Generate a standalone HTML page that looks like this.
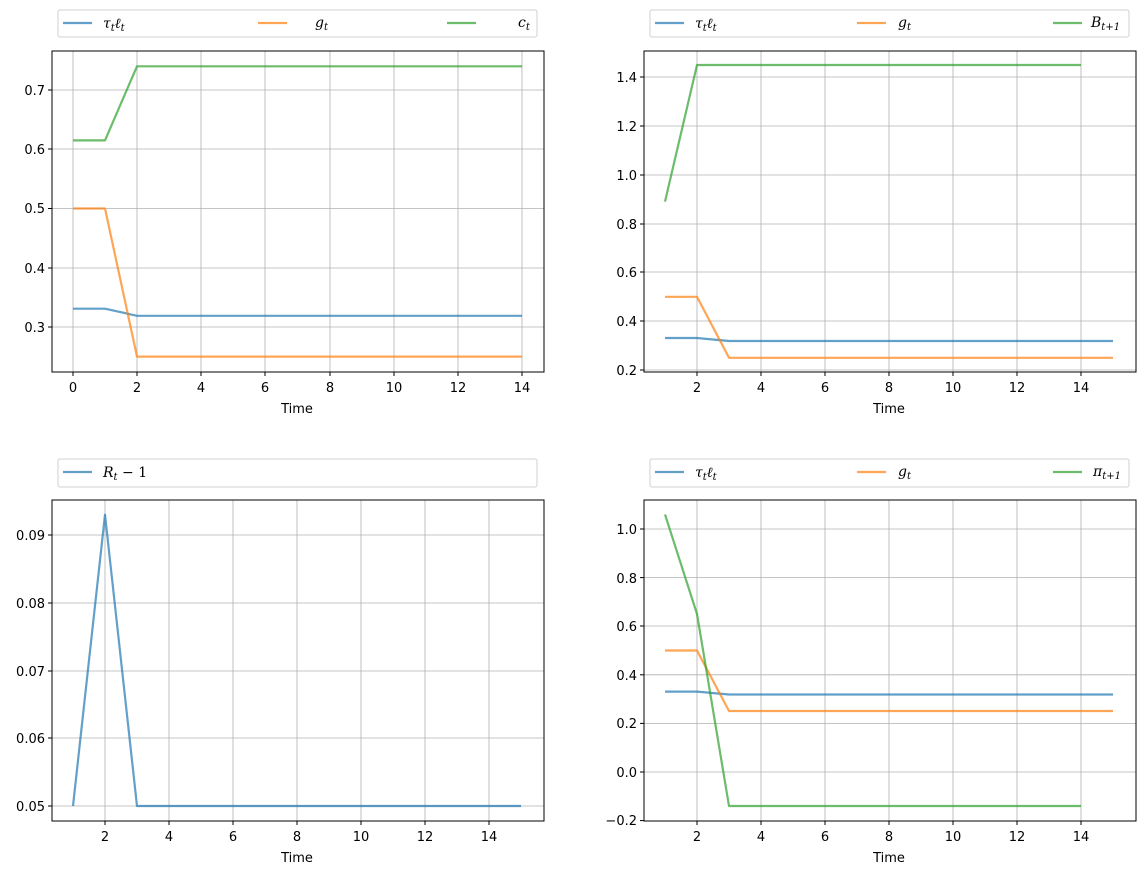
<!DOCTYPE html>
<html><head><meta charset="utf-8"><style>
body{margin:0;background:#fff}
svg{display:block;font-family:"DejaVu Sans","Liberation Sans",sans-serif;font-size:13px}
.g{stroke:#b0b0b0;stroke-width:0.8}
.ax{fill:none;stroke:#000;stroke-width:1}
.l{fill:none;stroke-width:2.2;stroke-opacity:0.7;stroke-linejoin:round}
.b{stroke:#1f77b4}.o{stroke:#ff7f0e}.gr{stroke:#2ca02c}
.lg{fill:#fff;stroke:#d0d0d0;stroke-width:1}
text{fill:#000}
.it{font-family:"DejaVu Serif","Liberation Serif",serif;font-style:italic;font-size:14px}
</style></head><body>
<svg width="1145" height="874" viewBox="0 0 1145 874">
<!-- TOP LEFT -->
<g>
<g class="g">
<line x1="73" y1="51" x2="73" y2="372"/><line x1="137" y1="51" x2="137" y2="372"/><line x1="201" y1="51" x2="201" y2="372"/><line x1="265" y1="51" x2="265" y2="372"/><line x1="330" y1="51" x2="330" y2="372"/><line x1="394" y1="51" x2="394" y2="372"/><line x1="458" y1="51" x2="458" y2="372"/><line x1="522" y1="51" x2="522" y2="372"/>
<line x1="52" y1="327" x2="544" y2="327"/><line x1="52" y1="268" x2="544" y2="268"/><line x1="52" y1="208.5" x2="544" y2="208.5"/><line x1="52" y1="149" x2="544" y2="149"/><line x1="52" y1="90" x2="544" y2="90"/>
</g>
<polyline class="l b" points="73,308.7 105,308.7 137,315.8 522,315.8"/>
<polyline class="l o" points="73,208.5 105,208.5 137,356.6 522,356.6"/>
<polyline class="l gr" points="73,140.4 105,140.4 137,66.3 522,66.3"/>
<rect class="ax" x="52" y="51" width="492" height="321"/>
<g stroke="#000"><line x1="73" y1="372" x2="73" y2="376"/><line x1="137" y1="372" x2="137" y2="376"/><line x1="201" y1="372" x2="201" y2="376"/><line x1="265" y1="372" x2="265" y2="376"/><line x1="330" y1="372" x2="330" y2="376"/><line x1="394" y1="372" x2="394" y2="376"/><line x1="458" y1="372" x2="458" y2="376"/><line x1="522" y1="372" x2="522" y2="376"/>
<line x1="48" y1="327" x2="52" y2="327"/><line x1="48" y1="268" x2="52" y2="268"/><line x1="48" y1="208.5" x2="52" y2="208.5"/><line x1="48" y1="149" x2="52" y2="149"/><line x1="48" y1="90" x2="52" y2="90"/></g>
<g text-anchor="middle"><text x="73" y="392">0</text><text x="137" y="392">2</text><text x="201" y="392">4</text><text x="265" y="392">6</text><text x="330" y="392">8</text><text x="394" y="392">10</text><text x="458" y="392">12</text><text x="522" y="392">14</text><text x="297" y="413">Time</text></g>
<g text-anchor="end"><text x="45" y="332">0.3</text><text x="45" y="273">0.4</text><text x="45" y="213">0.5</text><text x="45" y="154">0.6</text><text x="45" y="95">0.7</text></g>
<rect class="lg" x="58" y="10" width="479" height="27" rx="2"/>
<line class="l b" x1="63" y1="23" x2="92" y2="23"/><text class="it" x="103" y="28">τ<tspan font-size="10" dy="3">t</tspan><tspan dy="-3">ℓ</tspan><tspan font-size="10" dy="3">t</tspan></text>
<line class="l o" x1="258" y1="23" x2="287" y2="23"/><text class="it" x="315" y="27">g<tspan font-size="10" dy="3">t</tspan></text>
<line class="l gr" x1="447" y1="23" x2="476" y2="23"/><text class="it" x="518" y="27">c<tspan font-size="10" dy="3">t</tspan></text>
</g>

<!-- TOP RIGHT -->
<g>
<g class="g">
<line x1="697" y1="51" x2="697" y2="372"/><line x1="761" y1="51" x2="761" y2="372"/><line x1="825" y1="51" x2="825" y2="372"/><line x1="889" y1="51" x2="889" y2="372"/><line x1="953" y1="51" x2="953" y2="372"/><line x1="1017" y1="51" x2="1017" y2="372"/><line x1="1081" y1="51" x2="1081" y2="372"/>
<line x1="644" y1="370" x2="1136" y2="370"/><line x1="644" y1="321" x2="1136" y2="321"/><line x1="644" y1="272" x2="1136" y2="272"/><line x1="644" y1="224" x2="1136" y2="224"/><line x1="644" y1="175" x2="1136" y2="175"/><line x1="644" y1="126" x2="1136" y2="126"/><line x1="644" y1="77" x2="1136" y2="77"/>
</g>
<polyline class="l b" points="665,338 697,338 729,341 1113,341"/>
<polyline class="l o" points="665,296.8 697,296.8 729,357.8 1113,357.8"/>
<polyline class="l gr" points="665,201.6 697,65 1081,65"/>
<rect class="ax" x="644" y="51" width="492" height="321"/>
<g stroke="#000"><line x1="697" y1="372" x2="697" y2="376"/><line x1="761" y1="372" x2="761" y2="376"/><line x1="825" y1="372" x2="825" y2="376"/><line x1="889" y1="372" x2="889" y2="376"/><line x1="953" y1="372" x2="953" y2="376"/><line x1="1017" y1="372" x2="1017" y2="376"/><line x1="1081" y1="372" x2="1081" y2="376"/>
<line x1="640" y1="370" x2="644" y2="370"/><line x1="640" y1="321" x2="644" y2="321"/><line x1="640" y1="272" x2="644" y2="272"/><line x1="640" y1="224" x2="644" y2="224"/><line x1="640" y1="175" x2="644" y2="175"/><line x1="640" y1="126" x2="644" y2="126"/><line x1="640" y1="77" x2="644" y2="77"/></g>
<g text-anchor="middle"><text x="697" y="392">2</text><text x="761" y="392">4</text><text x="825" y="392">6</text><text x="889" y="392">8</text><text x="953" y="392">10</text><text x="1017" y="392">12</text><text x="1081" y="392">14</text><text x="889" y="413">Time</text></g>
<g text-anchor="end"><text x="637" y="375">0.2</text><text x="637" y="326">0.4</text><text x="637" y="277">0.6</text><text x="637" y="229">0.8</text><text x="637" y="180">1.0</text><text x="637" y="131">1.2</text><text x="637" y="82">1.4</text></g>
<rect class="lg" x="650" y="10" width="479" height="27" rx="2"/>
<line class="l b" x1="655" y1="23" x2="684" y2="23"/><text class="it" x="695" y="28">τ<tspan font-size="10" dy="3">t</tspan><tspan dy="-3">ℓ</tspan><tspan font-size="10" dy="3">t</tspan></text>
<line class="l o" x1="857" y1="23" x2="886" y2="23"/><text class="it" x="898" y="27">g<tspan font-size="10" dy="3">t</tspan></text>
<line class="l gr" x1="1053" y1="23" x2="1082" y2="23"/><text class="it" x="1091" y="27">B<tspan font-size="10" dy="3">t+1</tspan></text>
</g>

<!-- BOTTOM LEFT -->
<g>
<g class="g">
<line x1="105" y1="500" x2="105" y2="821"/><line x1="169" y1="500" x2="169" y2="821"/><line x1="233" y1="500" x2="233" y2="821"/><line x1="297" y1="500" x2="297" y2="821"/><line x1="361" y1="500" x2="361" y2="821"/><line x1="425" y1="500" x2="425" y2="821"/><line x1="489" y1="500" x2="489" y2="821"/>
<line x1="52" y1="806" x2="544" y2="806"/><line x1="52" y1="738" x2="544" y2="738"/><line x1="52" y1="671" x2="544" y2="671"/><line x1="52" y1="603" x2="544" y2="603"/><line x1="52" y1="535" x2="544" y2="535"/>
</g>
<polyline class="l b" points="73,806 105,514.7 137,806 521,806"/>
<rect class="ax" x="52" y="500" width="492" height="321"/>
<g stroke="#000"><line x1="105" y1="821" x2="105" y2="825"/><line x1="169" y1="821" x2="169" y2="825"/><line x1="233" y1="821" x2="233" y2="825"/><line x1="297" y1="821" x2="297" y2="825"/><line x1="361" y1="821" x2="361" y2="825"/><line x1="425" y1="821" x2="425" y2="825"/><line x1="489" y1="821" x2="489" y2="825"/>
<line x1="48" y1="806" x2="52" y2="806"/><line x1="48" y1="738" x2="52" y2="738"/><line x1="48" y1="671" x2="52" y2="671"/><line x1="48" y1="603" x2="52" y2="603"/><line x1="48" y1="535" x2="52" y2="535"/></g>
<g text-anchor="middle"><text x="105" y="841">2</text><text x="169" y="841">4</text><text x="233" y="841">6</text><text x="297" y="841">8</text><text x="361" y="841">10</text><text x="425" y="841">12</text><text x="489" y="841">14</text><text x="297" y="862">Time</text></g>
<g text-anchor="end"><text x="45" y="811">0.05</text><text x="45" y="743">0.06</text><text x="45" y="676">0.07</text><text x="45" y="608">0.08</text><text x="45" y="540">0.09</text></g>
<rect class="lg" x="58" y="459" width="479" height="28" rx="2"/>
<line class="l b" x1="63" y1="472" x2="92" y2="472"/><text class="it" x="103" y="477">R<tspan font-size="10" dy="3">t</tspan><tspan dy="-3" font-style="normal"> − 1</tspan></text>
</g>

<!-- BOTTOM RIGHT -->
<g>
<g class="g">
<line x1="697" y1="500" x2="697" y2="821"/><line x1="761" y1="500" x2="761" y2="821"/><line x1="825" y1="500" x2="825" y2="821"/><line x1="889" y1="500" x2="889" y2="821"/><line x1="953" y1="500" x2="953" y2="821"/><line x1="1017" y1="500" x2="1017" y2="821"/><line x1="1081" y1="500" x2="1081" y2="821"/>
<line x1="644" y1="772" x2="1136" y2="772"/><line x1="644" y1="723.4" x2="1136" y2="723.4"/><line x1="644" y1="674.8" x2="1136" y2="674.8"/><line x1="644" y1="626" x2="1136" y2="626"/><line x1="644" y1="577.6" x2="1136" y2="577.6"/><line x1="644" y1="529" x2="1136" y2="529"/>
</g>
<polyline class="l b" points="665,691.6 697,691.6 729,694.5 1113,694.5"/>
<polyline class="l o" points="665,650.5 697,650.5 729,711 1113,711"/>
<polyline class="l gr" points="665,514.4 697,614 729,806 1081,806"/>
<rect class="ax" x="644" y="500" width="492" height="321"/>
<g stroke="#000"><line x1="697" y1="821" x2="697" y2="825"/><line x1="761" y1="821" x2="761" y2="825"/><line x1="825" y1="821" x2="825" y2="825"/><line x1="889" y1="821" x2="889" y2="825"/><line x1="953" y1="821" x2="953" y2="825"/><line x1="1017" y1="821" x2="1017" y2="825"/><line x1="1081" y1="821" x2="1081" y2="825"/>
<line x1="640" y1="820.6" x2="644" y2="820.6"/><line x1="640" y1="772" x2="644" y2="772"/><line x1="640" y1="723.4" x2="644" y2="723.4"/><line x1="640" y1="674.8" x2="644" y2="674.8"/><line x1="640" y1="626" x2="644" y2="626"/><line x1="640" y1="577.6" x2="644" y2="577.6"/><line x1="640" y1="529" x2="644" y2="529"/></g>
<g text-anchor="middle"><text x="697" y="841">2</text><text x="761" y="841">4</text><text x="825" y="841">6</text><text x="889" y="841">8</text><text x="953" y="841">10</text><text x="1017" y="841">12</text><text x="1081" y="841">14</text><text x="889" y="862">Time</text></g>
<g text-anchor="end"><text x="637" y="825">−0.2</text><text x="637" y="777">0.0</text><text x="637" y="728">0.2</text><text x="637" y="680">0.4</text><text x="637" y="631">0.6</text><text x="637" y="583">0.8</text><text x="637" y="534">1.0</text></g>
<rect class="lg" x="650" y="459" width="479" height="28" rx="2"/>
<line class="l b" x1="655" y1="472" x2="684" y2="472"/><text class="it" x="695" y="477">τ<tspan font-size="10" dy="3">t</tspan><tspan dy="-3">ℓ</tspan><tspan font-size="10" dy="3">t</tspan></text>
<line class="l o" x1="857" y1="472" x2="886" y2="472"/><text class="it" x="898" y="476">g<tspan font-size="10" dy="3">t</tspan></text>
<line class="l gr" x1="1053" y1="472" x2="1082" y2="472"/><text class="it" x="1093" y="476">π<tspan font-size="10" dy="3">t+1</tspan></text>
</g>
</svg>
</body></html>
